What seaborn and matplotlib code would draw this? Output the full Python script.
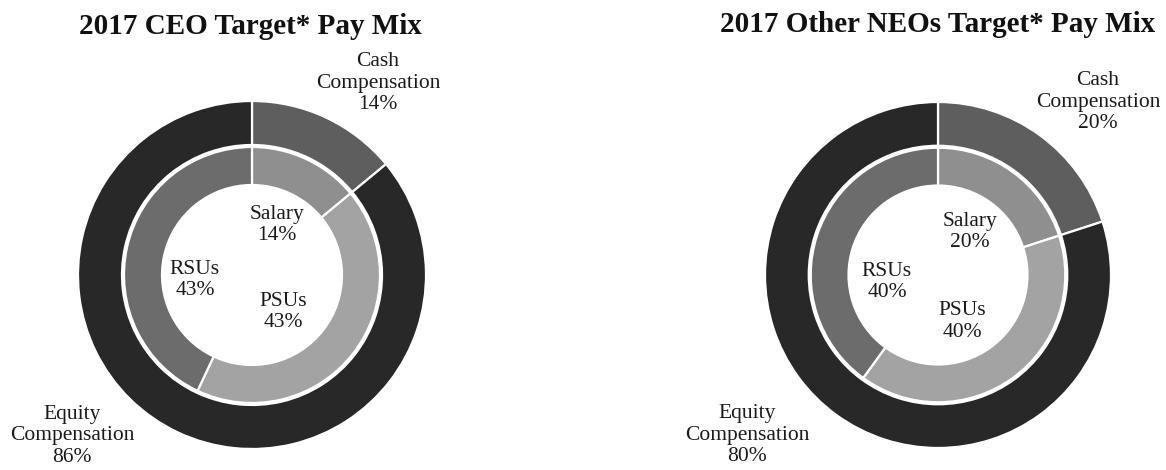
import matplotlib
matplotlib.use("Agg")
import matplotlib.pyplot as plt
import seaborn as sns

sns.set_style("white")
plt.rcParams['font.family'] = ['Liberation Serif', 'DejaVu Serif']

# ---- data ----
titles = ["2017 CEO Target* Pay Mix", "2017 Other NEOs Target* Pay Mix"]
outer_labels = ["Cash\nCompensation", "Equity\nCompensation"]
inner_labels = ["Salary", "PSUs", "RSUs"]
ceo_outer = [14, 86]
ceo_inner = [14, 43, 43]
neo_outer = [20, 80]
neo_inner = [20, 40, 40]

outer_colors = ["#5e5e5e", "#282828"]
inner_colors = ["#8f8f8f", "#a3a3a3", "#6c6c6c"]

W, H = 1166, 470
fig = plt.figure(figsize=(W / 100, H / 100), dpi=100)
fig.patch.set_facecolor("white")

# layout: centre (px), radius (px), title pos, label offsets (in radius units)
layouts = [
    dict(cx=252, cy=275, R=174, tx=250, ty=27,
         outer_pos=[(0.724, 1.103), (-1.034, -0.925)],
         inner_pos=[(0.144, 0.287), (0.178, -0.213), (-0.328, -0.029)]),
    dict(cx=938, cy=275, R=173, tx=938, ty=25,
         outer_pos=[(0.925, 1.0), (-1.104, -0.925)],
         inner_pos=[(0.185, 0.249), (0.139, -0.27), (-0.295, -0.04)]),
]
datasets = [(ceo_outer, ceo_inner), (neo_outer, neo_inner)]

for title, lay, (outer, inner) in zip(titles, layouts, datasets):
    cx, cy, R = lay["cx"], lay["cy"], lay["R"]
    ax = fig.add_axes([(cx - R) / W, (H - cy - R) / H, 2 * R / W, 2 * R / H])
    ax.pie(outer, radius=1.0, colors=outer_colors, startangle=90, counterclock=False,
           wedgeprops=dict(width=44 / 174, edgecolor="white", linewidth=1.6))
    ax.pie(inner, radius=128 / 174, colors=inner_colors, startangle=90, counterclock=False,
           wedgeprops=dict(width=38 / 174, edgecolor="white", linewidth=1.6))
    ax.set_xlim(-1, 1)
    ax.set_ylim(-1, 1)
    ax.set_aspect("equal")
    ax.axis("off")
    for lbl, val, (x, y) in zip(outer_labels, outer, lay["outer_pos"]):
        ax.text(x, y, f"{lbl}\n{val}%", ha="center", va="center", fontsize=15.5,
                color="#1a1a1a", clip_on=False, linespacing=1.2)
    for lbl, val, (x, y) in zip(inner_labels, inner, lay["inner_pos"]):
        ax.text(x, y, f"{lbl}\n{val}%", ha="center", va="center", fontsize=15.5,
                color="#1a1a1a", clip_on=False, linespacing=1.2)
    fig.text(lay["tx"] / W, 1 - lay["ty"] / H, title, ha="center", va="center",
             fontsize=21, fontweight="bold", color="#111111")

fig.savefig("out.png", dpi=100, facecolor="white")
